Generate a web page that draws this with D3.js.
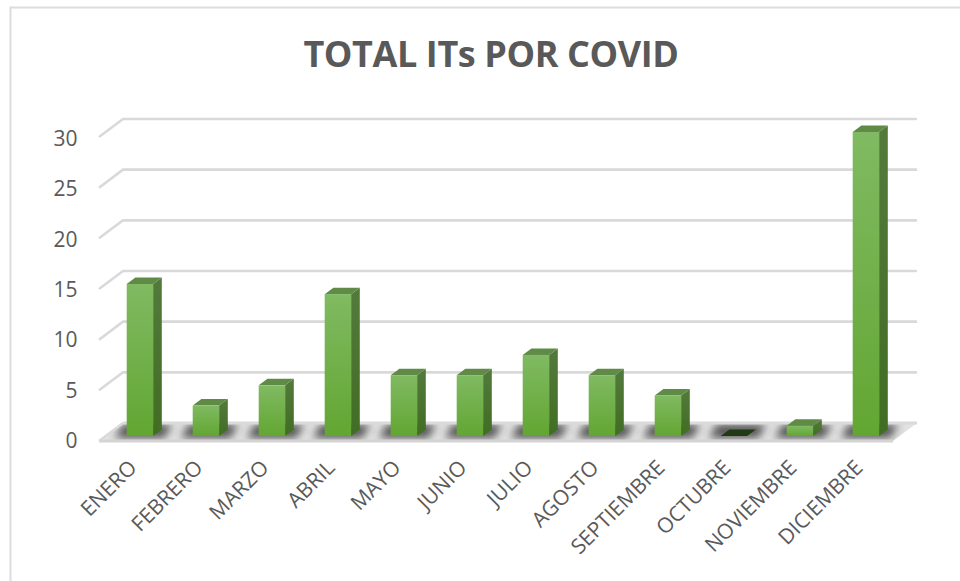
<!DOCTYPE html>
<html><head><meta charset="utf-8">
<script src="https://cdn.jsdelivr.net/npm/d3@7"></script>
<style>html,body{margin:0;padding:0;background:#fff}svg{display:block}</style>
</head><body><svg id="c" width="960" height="581"></svg>
<script>
const months = ["ENERO","FEBRERO","MARZO","ABRIL","MAYO","JUNIO","JULIO","AGOSTO","SEPTIEMBRE","OCTUBRE","NOVIEMBRE","DICIEMBRE"];
const values = [15,3,5,14,6,6,8,6,4,0,1,30];
const yTicks = [0,5,10,15,20,25,30];
const titleText = "TOTAL ITs POR COVID";

const svg = d3.select("#c");
const pL=99,pR=893,pT=137,pB=441,wallX=24,wallY=18,barDX=8.7,barDY=6.5,barLift=5,barShift=7.9;
const x = d3.scaleBand().domain(months).range([pL,pL+792]).paddingInner(0.6).paddingOuter(0.3);
const y = d3.scaleLinear().domain([0,30]).range([pB,pT]);
const yLabel = d3.scaleLinear().domain([0,30]).range([448,146]);
const defs = svg.append("defs");
function grad(id,stops){const g=defs.append("linearGradient").attr("id",id).attr("x1",0).attr("y1",0).attr("x2",0).attr("y2",1);
  stops.forEach(s=>g.append("stop").attr("offset",s[0]).attr("stop-color",s[1]));}
grad("front",[[0,"#80ba62"],[1,"#62a632"]]);
grad("side",[[0,"#537a3c"],[1,"#416d23"]]);
defs.append("filter").attr("id","blur").attr("x","-50%").attr("y","-100%").attr("width","200%").attr("height","300%")
  .append("feGaussianBlur").attr("stdDeviation",4.5);
const floorPts=[[pL,pB],[pR,pB],[pR+wallX,pB-wallY],[pL+wallX,pB-wallY]];
defs.append("clipPath").attr("id","fl").append("polygon").attr("points",floorPts.join(" "));

// chart frame: top and left edges only
svg.append("path").attr("fill","none").attr("stroke","#dcdcdc").attr("stroke-width",2)
  .attr("d","M960,7.5H10.5V581");
svg.append("text").attr("x",491).attr("y",67).attr("text-anchor","middle")
  .attr("font-family","'Open Sans'").attr("font-weight",700).attr("font-size",36).attr("letter-spacing",-0.4).attr("fill","#595959").text(titleText);

// walls
const gridG=svg.append("g").attr("fill","none").attr("stroke","#d9d9d9").attr("stroke-width",2.6);
gridG.selectAll("path").data(yTicks.filter(d=>d>0)).join("path")
  .attr("d",d=>`M${pL},${y(d)}L${pL+wallX},${y(d)-wallY}H${pR+wallX}`);

// floor
svg.append("polygon").attr("points",floorPts.join(" ")).attr("fill","#e2e2e2");
const sh=svg.append("g").attr("clip-path","url(#fl)").append("g").attr("filter","url(#blur)").attr("opacity",0.82);
sh.selectAll("polygon").data(months).join("polygon").attr("fill","#333")
  .attr("points",d=>{const a=x(d)+1,b=x(d)+x.bandwidth()+24,yb=pB-barLift+2,yt=yb-barDY-7;
    return [[a-5,yb],[b-5,yb],[b+3,yt],[a+3,yt]].join(" ");});
svg.append("path").attr("fill","none").attr("stroke","#dadada").attr("stroke-width",2.8)
  .attr("d",`M${pL+wallX},${pB-wallY}H${pR+wallX}`);
svg.append("path").attr("fill","none").attr("stroke","#d4d4d4").attr("stroke-width",3)
  .attr("d",`M${pL},${pB}H${pR}`);
svg.append("path").attr("fill","none").attr("stroke","#d9d9d9").attr("stroke-width",2.6)
  .attr("d",`M${pL},${pB}L${pL+wallX},${pB-wallY}`);

// bars
const bars=svg.append("g").selectAll("g").data(months.map((m,i)=>({m,v:values[i]}))).join("g");
const X0=d=>x(d.m)+barShift, X1=d=>X0(d)+x.bandwidth();
const Yb=()=>pB-barLift, Yt=d=>y(d.v)-barLift;
bars.filter(d=>d.v>0).append("polygon").attr("fill","url(#side)")
  .attr("points",d=>[[X1(d),Yt(d)],[X1(d)+barDX,Yt(d)-barDY],[X1(d)+barDX,Yb()-barDY],[X1(d),Yb()]].join(" "));
bars.append("polygon").attr("fill",d=>d.v>0?"#5f8b47":"#1f3a14")
  .attr("points",d=>[[X0(d),Yt(d)],[X1(d),Yt(d)],[X1(d)+barDX,Yt(d)-barDY],[X0(d)+barDX,Yt(d)-barDY]].join(" "));
bars.filter(d=>d.v>0).append("rect").attr("fill","url(#front)").attr("x",X0).attr("y",Yt).attr("width",x.bandwidth()).attr("height",d=>Yb()-Yt(d));

// y labels
svg.append("g").selectAll("text").data(yTicks).join("text")
  .attr("x",77.5).attr("y",d=>yLabel(d)).attr("text-anchor","end")
  .attr("font-family","'Open Sans'").attr("font-size",21).attr("fill","#595959").text(d=>d);
// x labels
svg.append("g").selectAll("text").data(months).join("text")
  .attr("transform",d=>`translate(${x(d)+x.bandwidth()/2+6},${pB+28}) rotate(-45)`)
  .attr("text-anchor","end").attr("font-family","'Open Sans'").attr("font-size",21).attr("fill","#595959").text(d=>d);
</script></body></html>
